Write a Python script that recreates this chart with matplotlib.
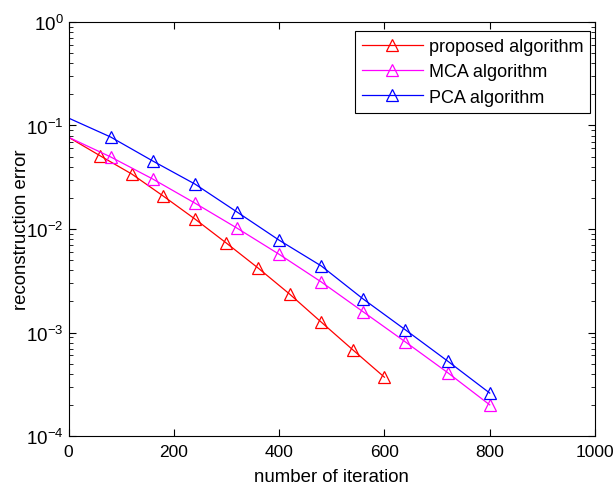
import numpy as np
import matplotlib
matplotlib.use('Agg')
import matplotlib.pyplot as plt
from matplotlib.lines import Line2D

matplotlib.rcParams.update({'font.family': 'Liberation Sans', 'font.size': 13.5,
                            'mathtext.fontset': 'custom', 'mathtext.rm': 'Liberation Sans',
                            'axes.unicode_minus': False})

# data (first point is the start of the curve, no marker)
it_proposed = [0, 60, 120, 180, 240, 300, 360, 420, 480, 540, 600]
err_proposed = [0.077, 0.051, 0.034, 0.0208, 0.0125, 0.0073, 0.0042, 0.00235, 0.00126, 0.00068, 0.00037]

it_mca = [0, 80, 160, 240, 320, 400, 480, 560, 640, 720, 800]
err_mca = [0.077, 0.0497, 0.0304, 0.0178, 0.0102, 0.0057, 0.00308, 0.00158, 0.00081, 0.00041, 0.0002]

it_pca = [0, 80, 160, 240, 320, 400, 480, 560, 640, 720, 800]
err_pca = [0.118, 0.0774, 0.0454, 0.0272, 0.0146, 0.0078, 0.0044, 0.0021, 0.00106, 0.00053, 0.00026]

labels = ['proposed algorithm', 'MCA algorithm', 'PCA algorithm']
colors = ['#ff0000', '#ff00ff', '#0000ff']

fig = plt.figure(figsize=(6.14, 4.89), dpi=100)
ax = fig.add_axes([0.1116, 0.1063, 0.8575, 0.8467])

mk = dict(marker='^', markerfacecolor='none', markersize=9, markeredgewidth=0.9)
handles = []
for its, errs, c, lab in zip([it_proposed, it_mca, it_pca], [err_proposed, err_mca, err_pca], colors, labels):
    ax.semilogy(its, errs, color=c, linewidth=0.9)
    ax.semilogy(its[1:], errs[1:], linestyle='none', color=c, **mk)
    handles.append(Line2D([], [], color=c, linewidth=0.9, label=lab, **mk))

ax.set_xlim(0, 1000)
ax.set_ylim(1e-4, 1)
ax.set_xticks(np.arange(0, 1001, 200))
ax.tick_params(which='both', direction='in', top=True, right=True)
ax.tick_params(axis='y', labelsize=13.5)
ax.tick_params(axis='x', labelsize=12.5, pad=6)
ax.tick_params(which='major', length=5)
ax.tick_params(which='minor', length=3)
ax.set_xlabel('number of iteration', fontsize=13.4, labelpad=6)
ax.set_ylabel('reconstruction error', fontsize=13.4, labelpad=-2.5)

leg = ax.legend(handles=handles, loc='upper right', bbox_to_anchor=(0.991, 0.978),
                borderaxespad=0, fancybox=False, framealpha=1,
                edgecolor='black', fontsize=13, handlelength=3.4, handletextpad=0.3,
                labelspacing=0.45, borderpad=0.4)
leg.get_frame().set_linewidth(0.8)

fig.savefig('out.png', dpi=100)
